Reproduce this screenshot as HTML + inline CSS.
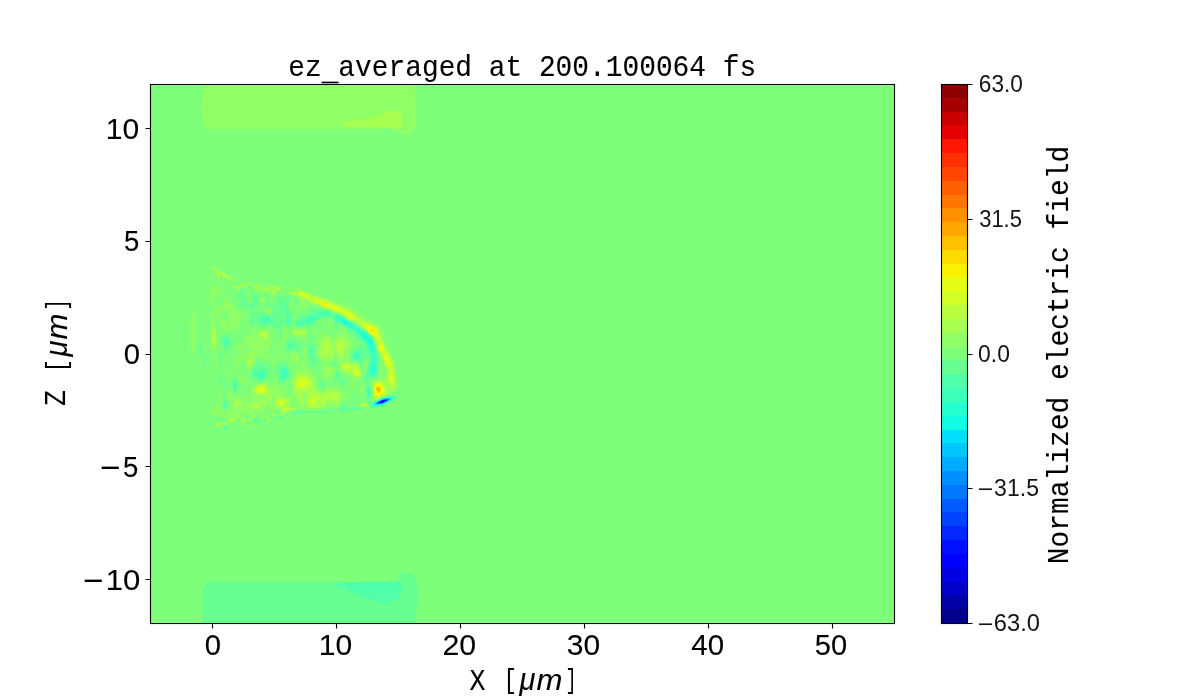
<!DOCTYPE html>
<html><head><meta charset="utf-8"><title>ez_averaged</title>
<style>html,body{margin:0;padding:0;background:#fff;width:1200px;height:700px;overflow:hidden}svg{display:block;will-change:transform}text{fill:#000}.s{stroke:#000;stroke-width:0.1px}.c{fill:#141414}</style>
</head><body>
<svg width="1200" height="700" viewBox="0 0 1200 700">
<rect width="1200" height="700" fill="#fff"/>
<rect x="150" y="84" width="744" height="539" fill="#7dff7a"/>
<g shape-rendering="crispEdges">
<path d="M205 84 415 84 415.5 100 416 106 416 125 413 130 409 133.5 404 135 399 134 396 131 396 128.5 213 128.5 208 129.5 206 127.5 203.8 124 202.2 119 201.2 108 202.2 101 204 90Z" fill="#90ff66"/>
<path d="M343 122.5 350 121 358 120 360 119 365 119.5 373 117.5 380 116 384 113 388 111 397 111 400 113 402 116 402 125 400.5 128 396 129 387 127.5 348 127 343 126Z" fill="#a7ff50"/>
<path d="M202.3 623 202.3 600 202.3 590 204.5 585.5 207 583 210 580.5 212 582 397 581.4 398.5 576 402 573 407 572 412 574 415 578 417 584 418.5 590 418 600 417 610 415.5 618 414.5 623Z" fill="#66ff90"/>
<path d="M331 584.5 340 583 350 582 360 581.5 397 581.5 399 580 401 585 402.5 590 401 595 397.5 599 392 601.5 380 602 370 599.5 358 595 345 589 335 586Z" fill="#50ffa7"/>
<path d="M395 584 397 583.5 397.5 586 395.5 587Z" fill="#3cffba"/>
<path fill-rule="evenodd" fill="#90ff66" d="M212.5 266l2 0 2.5 1.5 1 1 0 2 1.5 1 2-1 1 0 2 1.5 1 1.5 6 2.5 1.5 1.5 0 1-1 1-2.5 1-3-.5-2 2-1 0-.5-1.5 .5-.5 2-.5 0-1-1-.5-1.5 .5-.5 1-3-.5-2-1-2 .5-1-1 2-3-1.5-2 0-2-.5-.5-2 2.5-1.5-1 0-1 1-1 0-2zM234.5 278.5l1 .5 2 1.5-4 2-1-1 0-1zM238.5 281l1 0 2 2 2 .5 1.5 0-.5-1 1-.5 1 1.5 3-2.5 2 1.5 1 .5 1 1.5 1 .5 2-1.5 3 .5 2-.5 2.5 1 0 1 1.5 1.5 2-2.5 2 .5 2 1.5 1 0 2-1.5 1-.5 3 1.5 3-.5 1 0 1.5 1 0 1-.5 1-3 0-.5 2-1.5 1 .5 1-.5 1-2 0-1.5 1-1 4-.5 .5-2-2-2-5.5-2 1-2 .5-1-.5-2-2-1-2-1 .5-1 3-2 .5-1 0-2-2 .5-2-2.5-2.5-4-1-4 2.5-5 1-2 1.5-2-.5-3-2-1-1 0-1 1-1.5 2 2 2 .5 .5-1 0-1 1.5-1-.5-2zM270 290.5l.5 .5 1-.5-1-.5zM227.5 282l1.5 .5 .5 1-1 2-1-.5-.5-1.5 0-1zM210.5 285l1 .5 1 1.5 1 0 2-2 2 0 1 .5 1 2 3 3 0 2-1 1-2 0-.5 1-.5 3-.5 1-.5 0-1-1-1-2.5-1 1-2-1 0 .5-.5 2 0 2 .5 .5 2 .5 1 6 1 1.5 2-2 2 .5 1.5-1 1-2 0-4 .5-1 1-.5 3 1.5 2 3 3 3 1.5 3 2.5 .5 2 4 2-1.5 1 1 .5 1-1 4-1.5 9-1 3-1 0-2-3-2 4.5-1 0-3-.5-2-3.5-.5 1.5-1.5 1-1-.5-1-3.5-1 .5-2 2.5-1 0-1-4 0-6-2-1-1.5-4-.5-.5-1 .5 0 2 2 3-.5 5 1.5 7 1 13-.5 3-1.5 6-1 .5-3-2.5-1-2 0-3 0-14 1-7-.5-6 3-10 0-1-2.5-3-1-2-1-14zM230.5 308.5l-2 1.5-1 2-1 0-1-.5-1 .5-1 1-2-1-1 0-1 3.5 0 2 3 3 2-.5 1.5 .5 1 2 .5 4 .5 0 .5 0 1-3-1-6 2-3 1-5 0-1.5zM291.5 287l1.5 .5 0 1-1.5 1-1.5-1zM288.5 288l.5 .5-.5 .5-.5-.5zM297.5 288l1 0 8.5 3.5 9.5 3 32 11.5 7 4.5 8.5 7 10.5 4.5 5 3.5 2.5 4 2.5 10 2 5 7 13 2.5 8 3 17-.5 5-2 3-3 2.5-12 4.5-3 2-5 .5-1 0-1.5-18.5 .5-1 2 1 2-2 3-1 1.5-2 .5-3-1-6 1-3.5 2.5 5.5 .5 2-.5 2-1.5 3 .5 3 .5 .5 1 0 2-4.5 .5-2-.5-6-2.5-3-1.5-5.5-3.5-7.5-2.5-9-2-4-8-8.5-5-3.5-3-3-9-3.5-4-3.5-8-4-3 0-7-3.5-3 0-4-2-3-1-4-1-2 .5-3-4-1-.5-1 .5 0 3-.5 1-2.5 3.5-1-1-3.5-10.5-1.5-1-4-.5-4-3-2 .5-.5-1 0-1 1.5-.5 1 .5 5-.5 1-1 2 0zM245.5 289l1.5 .5-1.5 1.5-.5-1.5zM251.5 289.5l1-.5 1.5 .5-1.5 1zM284.5 290l1 .5-1 .5-.5-.5zM261.5 297l2-.5 1.5 2 0 3-.5 2-1 .5-2-1.5-1.5-2 0-2zM291.5 302l1 0 1 2 0 1.5-1 1.5-1-.5-1-2 0-1zM268.5 308l2 0 1 .5 .5 1-.5 3-1 1.5-3.5-2.5 0-2zM192.5 312l1 1.5 1 5 .5 14-.5 14-1 6-1 1.5-1-1.5-1-6-.5-14 .5-14 1-5zM330.5 320.5l1-.5 .5 1.5-.5 7-1 1-.5-2 .5-3zM245.5 323l.5 1.5 0 1-.5 1.5-1 0-.5-2.5 .5-1zM284.5 326.5l1 0 .5 1 0 4 1.5 1 1 0 .5 1-4 7-1.5 3-1 1 1-9 0-6zM318.5 326.5l0 2-.5-1zM253.5 328.5l2-.5 2 2 1 .5 2-2 5 .5 2 1.5 2 0 2 12-.5 3-2 3 0 3 2.5 5 2 .5 1 1.5 0 1-1 3 0 2.5-1 1.5-.5-1 0-4-.5-1.5-2-1-1-3-1-.5-1 1.5-3 1-5-3-1 0-1.5 2.5-2 7-2.5 2-3 4-2-1.5-1.5-5.5-1.5-3.5-1-1.5-1 0-2.5 4-.5 4 0 5-1 .5-1.5-4.5 1-4-3.5-3-1-2 0-1 1-.5 2 0 2.5-1.5 .5-5.5-2-.5-1-1 0-1 1-1.5 1 0 1 .5 3-4 2 0 1-1 1-3.5 3-4.5 2 2 1 .5 1-1.5 .5-5zM245 347.5l-2.5 3-.5 1 0 2 1.5 2 1-1.5 1-3.5 3 1.5 1-1.5 .5-2-.5-1.5-1-.5zM264 349.5l-.5 1 0 1 1 3 1 .5 .5-1.5-.5-3-1-1.5zM293.5 328l5 1 5-.5 3 2 0 1-1 4 0 4.5-1 0-1-2.5-1-1.5-1-.5-2 2.5-1 .5-1 0-2-2.5-2 0-1-1-1-2.5 .5-2zM342.5 328.5l1.5 1 2.5 3 2.5 6 2 2 .5 2 .5 3-.5 3-1 1-2 0-1 2 .5 2 1 3 1 4 2 2 2.5 .5 2-.5 1 .5 3.5 6.5 .5 5-.5 2-2.5 3.5-2 0-1.5 1.5-.5 3-.5 2-.5 4-.5-1-2-2-1-3 .5-2 2 1 1.5-2-1-3-.5-.5-2-1-2-3-1-.5-1 0-2 2-1.5-3-2.5-1-.5-1-1-5-.5-1-1 0 0-7-1-3-1-1.5-1-.5-1 6-2 2-1 .5-1-.5-1 3 1 2.5 2 1 3 1 .5 .5 0 2-1.5 4-1 2.5-1 .5-1-.5-2 1.5-3 1-1-.5-1-1.5-1.5-4 1-7 2-4 0-1-1.5-.5-2 0-.5-.5-3.5-6 1.5-7-.5-2-2-3 0-1 2-3 2-5 1-.5 .5 1.5 1.5 1.5 1-.5 1-2.5 1-.5 5 4.5 2 3 1.5-2.5 1.5-5 1 0 2 3 1 0 1-2 .5-4zM345.5 359.5l1 1 0-2zM313.5 330l1 2.5-1 2.5-1-.5-.5-2 .5-1.5zM222.5 331.5l1-.5 .5 1.5-.5 1.5-1 .5-.5-2zM277.5 339.5l.5 3-.5 2-1-3 0-1zM277.5 345l1 0 0 .5 .5 6 1.5 2.5 1 1 1-.5 1 2 0 3-1 1-2-1.5-2.5-.5-1-1-1-7zM304.5 348.5l1 .5 .5 3.5-.5 6-1 3 .5 4 1.5 1.5 2-.5 3 6.5 2 1.5 2 1 .5 2-.5 4 1.5 7 2.5 1.5 2 2 1-.5 4-3.5 2-.5 2-3 1 .5 1.5 3.5 1.5 1 1-1 1-4 1 .5 1 2.5 2.5 3 .5 3 3 .5 2-3.5 1.5 0 1 1 0 2-.5 1-4.5 6-.5 .5-2 0-2.5 3.5-1 3-1 1-1.5 0-2-1-3 1-1.5-1-.5-1.5-1 0-2 2.5-2 1-3-.5-3 .5-5 0-6 .5-1-.5-1-1.5-3-.5-1 .5-3-4-2 0-1-1-1-2.5-.5-6 0-4-2-9 1-3 2-2 1-4 1.5-2 .5-2-1-5-1.5-2.5-1 0-1.5 1.5-.5 3.5-.5-.5 0-4-.5-8 1-2 1 0 6 4 0 10.5 .5 2.5 1.5 2 1-1-.5-5 1.5-4zM214.5 357.5l.5 4 1.5 1 1 2 0 2-1 .5-2-.5-.5-1 .5-3-1-3zM365.5 362l1-.5 .5 1 0 1-.5 1.5-2 3-.5-2.5 .5-2.5zM228.5 370l.5 3.5-.5 1.5-1-1-.5-1.5 .5-1.5zM240.5 374.5l2 3.5 2 .5 2 2 1.5 3-.5 3-1.5-2-3.5-2.5-1-.5-1 .5-1-3.5-.5-3 .5-1zM275.5 380.5l1-1 4 11 1-.5 1-1.5 1 0 1 0 1.5 2 .5 4 1 1.5 1 0 1.5-2.5 1 0 0 1-.5 9 0 2 1 1.5 3 0 1-1.5 1 .5 1.5 2.5 0 1-.5 1-1 .5-2-1-1 1.5-1 0-1-.5-3 2-4 0-.5 .5-.5 2-1 .5-2-.5-3 .5-2-1.5-3 2.5-1.5-1.5 .5-3 .5-1 1.5-.5 2 3 3 0 1 0 .5-.5 0-2-.5-.5-2-.5-1-1.5-4 .5-3 2-1-.5-.5-.5 1-2-.5-2-1-.5-2 1-1 1.5-.5 1 1 2-2.5 3 3 1 1-3.5 1 0 .5 .5 0 2 1 2 0 2 2 1 .5 1-1 1-3-1-2-2.5-2 0-1 1-.5-.5-1.5-3 1-1-2-2.5-2 1-2-2-1 0-2 1.5 .5 1 1.5 .5 2-1 .5 1.5 0 1-2.5 2-1 .5-2-.5-3-2.5-3-.5-1-1.5-3 .5-1-2.5-1-.5-1.5 2 1 2 0 1 1 0 .5-1 2 .5 .5 .5-.5 2 3 .5 1 .5 .5 1-2.5 2.5-3 1-1 0 0-3-1-1-4 .5-2.5 3 .5 1 2 1-3 1-2-1 .5-1-.5-1-3-2 0-3 1-2-1-3-1.5 4-1.5 1.5-1-1-2.5-.5-2.5-2.5-2 1-2-2-1 2-1 .5-1-1-.5-3 .5-3 1-1 1.5-1 1.5-3.5 3-1 1-1.5 0-2-1-5 1-2.5 1 0 .5 1.5 .5 7-2 7 0 2 1 1.5 2 0 2 1.5 3 .5 .5-1.5 2.5-3.5 1-.5 1-2-.5-2-.5-.5-1 .5-1-1-1-5-1-1-1 0 0-1 0-1 3-3 1-.5 1 .5 2 9 1-.5 2-3.5 1-.5 5 3.5 2 7 .5-7 .5-3 1-2.5 2 2.5 1 .5 .5-.5 1-7 .5-2 1-1 3-.5 2-1.5 2 0 7-2 1 1 1.5 3 1.5 1 1-.5 2.5-2.5zM250 396.5l.5 3 1 1 1-2-1-2-1-.5zM261 408.5l-.5 1 1.5 0-.5-1.5zM241.5 416.5l-.5 1 .5 .5 1-.5-1-1.5zM285.5 384.5l1 2 0 2.5-1.5-2.5zM360.5 384.5l2 2.5 1 2.5 .5 2-.5 1.5-2 0-2-2.5 0-4zM344.5 387.5l1-.5 .5 1.5-.5 .5-1.5 .5-1.5 2 0-2zM355.5 396.5l1 0 1 2 0 1.5-1-.5zM362.5 402.5l3-.5 1 0 1.5 2.5-.5 2-1 1-3 .5-2.5-1.5-1-1 0-1 .5-1zM298.5 415l.5 .5-1 0zM286.5 416.5l1.5 0 .5 1-1 1-2 0-1-1zM249.5 418l1 0 1 1.5-1 1-1 .5-1.5-.5-.5-1zM223.5 419l1-.5 1 2 0 2 2 .5 0 1-1 0-3 1.5-1 1.5-2 0-3 1.5-3-.5-.5-1.5 1.5-2 1-2 1-.5 4 .5 1-.5zM275.5 419.5l1-1 .5 1-.5 1-1-.5zM236.5 422l1 0 .5 .5-1.5 1.5-1 .5 0-1zM251.5 423l1.5 1.5-1.5 .5-1.5-.5zM246.5 424l1 .5 .5 1-1.5 1-1-1 0-1zM240.5 425l2 .5 1 1-1 1-3 1-1.5-1zM231.5 428l1 .5 2-.5 1.5 .5-2.5 1.5-3-.5 0-1zM219.5 431l1 0 0 .5-1 .5-.5-.5z"/>
<path fill-rule="evenodd" fill="#a7ff50" d="M213.5 268l1 0 1.5 .5 1 2 2.5 1.5 2 0 2 .5 1 1 0 1 7 3 0 1-2 1.5-1 0-1-.5-1-1.5-2-1-2 1-1-1.5 1-1 0-1-1-1.5-1 0-1 1.5 1 2-1 1-3-1 0-1 .5-1-1-2 .5-2-.5-1-2.5-1zM234.5 280l1 .5-1 1-1-1zM249.5 282l2.5 2.5-1.5 1-2-1-.5-1zM228.5 283.5l0 .5-.5-.5zM256.5 284.5l1 0 1 1-1 2-1 0-1.5-1 0-1zM238.5 285.5l1 0 2 0 .5 1-.5 .5-2 .5-2 1.5-1 0-2-1.5 3-1zM243.5 285.5l1.5 0-.5 1-1-.5-.5-.5zM267.5 286l1 0 .5 .5 .5 3-2 2-2 .5-2.5-2.5 0-2 1.5 0 1 1 1 .5zM275.5 286l4 1.5 0 2-2.5 2-1.5 0-1 2-2 1-1-.5-.5-1.5 .5-1 3-1.5zM258.5 287.5l1 0 .5 1-.5 1-1 0-.5-1zM271.5 288.5l.5 0-.5 0zM298.5 289.5l4 2 2 0 2 1.5 18 6 24 10 5 3 8 7 12 5 4 3 2.5 3.5 1.5 6 4 10 5 9 2 5 1.5 5 2.5 16-1.5 6-1.5 3-1 .5-1 0-2-3-1 1.5-.5 4-2 2-8.5 3.5-3-.5-1-1-1-3 0-7 .5-3 .5-1 3-3 3-1 1 .5 2 2 1 0 3.5-5.5 .5-3-1-6-3-5-1.5-6-3.5-5.5-3.5-11.5-2-3-7.5-7-9-7.5-8-2.5-4-3.5-7-3.5-4-1-7-3.5-2 .5-2-.5-3-3-8-1.5-1-.5-3-3-2-1-4-.5-4-3.5-3 0-2-.5-1-1-2-1 1-.5 2 0 2-1 1-.5 1 1 0 1.5 1 0 0-2.5zM256.5 290l0 .5-.5 0zM262.5 298l1 .5 .5 1 0 1-.5 1-1 0-1-1 0-1.5zM228.5 305l1 0 .5 .5 0 1-1.5 1-1-1zM269.5 309.5l1 1-1 .5-.5-.5zM213.5 327l1 0 1 2.5 .5 11-.5 4-1 2.5-1 1-1-.5 0-1-.5-6 0-8zM302.5 329.5l2 .5 .5 1.5 0 2-.5 1-4 0-2 1.5-2.5-1.5-2.5-.5-1-1.5 0-1 1-1.5 2-.5 3 1.5zM262.5 330.5l3 .5 1.5 1.5 1.5 7-1-.5-2 1.5-5-4-.5-2 0-2 .5-1zM342.5 336l1 .5 2 6 1-2 1 0 0 2-1.5 5-2 3 .5 4-.5 2-.5 .5-2-.5-2 1-4-8-.5-3 1-6 1.5-3 2 2.5zM327.5 337l2 2.5 1.5 4 .5 .5 1.5 2.5 0 2-.5 3 0 4.5-1 1.5-1-.5-1-1-1 0-2 .5-1 1-3 .5-3-4.5 0-2 2-7 .5-4 .5-1 3-.5zM255.5 342.5l1 .5 .5 .5-.5 2-1 0-.5-1 0-1zM259.5 343l1 0 1 2.5-.5 1-1.5 1-.5-2zM252.5 351l1 1 .5 1.5-.5 1.5-1 .5-1-3zM292.5 354l1.5 1.5 0 1-.5 1-1 .5-.5-2.5zM296.5 356.5l1 0 0 1 0 4-1 0-.5-2-.5-2zM247.5 358.5l3 .5 2-.5 1 2-1 3-3 3-1 .5-1-1.5-1-3 0-3zM343.5 362l3 .5 2 0 3 2 5-.5 1 1 2.5 4.5 .5 2 0 3-1 2-2 1.5-2 0-1-.5-2-3.5-1 0-2-2-2-.5-3 .5-1-1-2-2.5-.5-2 .5-2zM326.5 368.5l1-1 1 0 1.5 2 0 3-1.5 2-1.5-1-2-4zM308.5 370.5l.5 2-.5 1.5-.5-2.5zM298.5 372l1 .5 2 1.5 1 0 1-1 1 0 2 2.5 1.5 0 .5-1 2 3.5 2-1 1 6.5 0 4 1 2 2 2 2 0 1 .5 2 2 1 .5 4-4.5 1-.5 2 2 1-1 5 1 3-1 1 1.5 .5 2.5-.5 4-.5 2-2.5 3-1-.5-1-1-2 0-3-1.5-4 3.5-2 3.5-2-1-2 0-2 1.5-7 0-1.5-.5-2.5-4 1-8-.5-2-.5-.5-3 0-1 .5-.5 2 2 5 .5 3-1 1.5-1-.5-1-2.5-4-5.5-.5-3-3-5-.5-4 0-3 2-4 1-3.5zM258.5 384.5l6-.5 2 1 3 5 2.5 6.5 0 2-1.5 2.5-2-1.5-.5-4-.5-1.5-1-.5-2 2.5-1 .5-2-.5-3 .5-2-2-3-2-.5-2 .5-2 3-3zM277.5 394.5l2 2.5 2-.5 3 .5 4 2.5 .5 2 0 3 1 2-.5 2 .5 1 0 1-.5 .5-1 1-2-.5-4 1-1-1 .5-3-2.5-.5-5-2.5 0-3 2-3 0-4.5zM237.5 399l1 0 3 3 0 2.5-1 .5-2 0-1 .5-2 3.5-1-1.5 0-1 1.5-5zM246.5 400l1 1 .5 1.5-.5 3.5-1-2zM264.5 399.5l1 .5 .5 1.5-1 3-1.5 1-.5-2 0-1zM254.5 401.5l3 .5 2-.5 1 1-1 3-1 2-1 1-5 0-1.5-2 0-2 1.5-2 1-1zM362.5 403.5l3-.5 1 .5 .5 1 0 1-1.5 1-2 .5-1-.5-1.5-1 0-1zM296.5 407l.5 1.5-.5 1-1.5-1 1-1zM292.5 408l1 0 .5 .5-.5 1.5-1 .5-.5-1zM261.5 411.5l.5 1-.5 .5-.5-.5 0-1zM249.5 414.5l2 0 0 .5-1 .5zM272.5 413.5l1.5 1-.5 1-1 .5-.5-1.5zM277.5 414.5l.5 0-.5 1zM253.5 415l1 .5 0 1-1 .5-1.5-.5 .5-1zM229.5 416.5l1-.5 3.5 3.5 0 1-1.5 1.5-1 .5-3-2 1-2-.5-1zM234.5 416.5l1-.5 1.5 1.5-.5 .5-1 .5zM267.5 416l.5 1.5-.5 1-1.5-1zM243.5 418.5l1 0 1 1-1.5 2-1.5 1-1-1 0-2 1-1zM217.5 422.5l1 0 1 1-2 2-1-1 0-1zM224.5 423l1 .5-1 1-.5 0 0-1zM220.5 424l1.5 .5 0 1-.5 1-1.5-1zM215.5 426.5l1-1 1 0 1 1 0 1-1 0z"/>
<path fill-rule="evenodd" fill="#baff3c" d="M217.5 271.5l1.5 1-.5 1-1 0-1-1 .5-1zM217.5 275l1 0 1 .5-.5 1-1.5 0-.5-1zM223.5 276.5l2-.5 1.5 .5-.5 .5zM228.5 278l1 .5-1 .5-.5-.5zM256.5 285l1 .5-1 1-.5-1zM237.5 287.5l.5 0-.5 .5-1-.5zM276.5 287l2 .5 .5 1-.5 1.5-1 0-1-.5-.5-1 0-1zM264.5 289.5l1 0 1.5 1-1.5 .5-.5-.5zM294.5 291.5l1 0 0 2.5-1 .5-1-1zM299.5 291l3 1.5 2-.5 2 2 5 2 10 3.5 4 1 4 2 5 1.5 13 6 5.5 3.5 7.5 7 10 3.5 4 2 2 1.5 2 3 1.5 7 3 5 1.5 5 4.5 8 3 7 2.5 12 .5 5-1.5 7-1 2-1-.5-1-2.5-2.5-3 0-3 .5-6-1.5-7-3-5-1.5-6-3.5-5-2-8-2.5-5-6-5.5-3-3.5-3-2-5-5.5-8-1.5-1.5-1-2.5-3-3-1.5-5-2-5-1.5-6-3-3 0-1.5-1-2.5-3-5 0-3-1.5-4-3-6-2-3-2.5-.5-1 .5-2zM272.5 292l1 .5-1 .5-1-.5zM263.5 331.5l2 .5 .5 1.5 0 2-1.5 1.5-2-1-1-1.5 0-2zM294.5 331l1.5 .5 0 1-1.5 .5-.5-.5 0-1zM301.5 331l1-.5 1 0 .5 1 .5 1-1 1-3-1 .5-1zM213.5 331.5l1 1 0 2 0 5.5-1 1-.5-6.5zM342.5 339.5l1 2 0 4-2 4-1 3.5-1 .5-2-5-.5-2zM324.5 342l2 0 1 1 1 7.5 0 1-1 1-2-2.5-1.5-3.5-.5-3zM248.5 362l.5 .5-.5 1zM343.5 364l2-.5 4 1 1.5 3-.5 2-1 .5-4 .5-1 0-1-1-1-2 0-2zM353.5 366l1-.5 2 .5 3 4.5 .5 3-.5 1.5-1 1-2 .5-2-1-2-7zM298.5 374.5l1 0 2 2.5 3-1 3.5 2.5 1.5 2 2 2 .5 2-.5 3-2-.5-2 2.5-3 0-3 1-5-1-1.5-2 0-4 .5-3zM377.5 381.5l3 0 3.5 3 1 2 1.5 5-.5 2-1.5 2-3 1-3 2-1 0-3-1.5-1-3.5 0-5 0-3 2-3zM258.5 385.5l3-.5 3 .5 1.5 1 1 2 0 2-2.5 3-1 1-5-.5-3-2.5-.5-1 .5-2 1.5-2zM309.5 392l1 .5 1 3 1 .5 1-.5 1-1.5 2 .5 2-1.5 1 1 1 1.5 0 2-.5 1-3.5 3 0 2-1.5 2-1.5 1-3 0-1-2-1-7 .5-4zM326.5 392.5l1 0 .5 2-1 4-3.5 4.5-1-.5-1-2 .5-3 3-2zM331.5 393l3 .5 1.5 1 0 1-1.5 2-2 1.5-1-.5-1.5-2 0-2 .5-1zM337.5 393.5l1 1 0 1-1 .5-.5-1.5zM279.5 399l2-.5 3 1 2 1 0 1-1 2-4 3.5-1 0-1 0-2-2.5-.5-2 1-2zM254.5 403.5l1.5 0 1 1 .5 1-1 1-1.5 0-1.5-1 0-1.5zM362.5 404.5l3-.5 .5 .5 0 1-2.5 .5-1-.5zM285.5 407.5l1 0 2-.5 1 2.5-.5 1-.5 .5-2-1-3 1.5-1-1 1-2 1-1zM230.5 419.5l1-1 1 1 .5 1-.5 1-1 0-1-1zM242.5 420.5l1 0-1 .5zM217.5 423.5l.5 0-.5 .5z"/>
<path fill-rule="evenodd" fill="#d1ff26" d="M277.5 288l.5 .5-.5 .5-.5-.5zM300.5 293l2 0 2 0 2 2 2 1.5-1 1-6-1.5-1.5-1.5-.5-1zM313.5 298.5l3 0 3 2 0 .5 4-.5 2 .5 4 3 5 1 7 4 6.5 2.5 5.5 4 2 3-3 1-3-.5-1-.5-3-4-3-1.5-5-2-5-1.5-5-2.5-4 0-2-1.5-2-4-3 1-2 0-2-3 0-1zM362.5 323l1 0 5 1.5 5 2 2 1.5 1.5 2.5 1 2 0 4-.5 2-1 0-1.5-2-6.5-5-2-3-3.5-3-.5-1zM263.5 332.5l1 0 .5 1 0 1-.5 .5-1 .5-1-1 0-1zM380.5 341.5l1 .5 1 1.5 2 8.5 3 3 2 3.5 1.5 5-.5 7-1-1-1-1-3.5-7-1.5-8-3-1.5-1-1.5-.5-4 1-4zM344.5 365l1 0 3 1.5 .5 1-2.5 1.5-2 0-1-1.5 0-1zM355.5 368.5l1 0 1 1 2 3-.5 2-1.5 1-2-.5-1-1.5 0-3zM391.5 372l2 3.5 0 2 0 3-1 4.5-1 0-1.5-2.5-.5-3 0-3zM299.5 377l2 2 4 0 2 1.5 .5 3-1.5 2.5-2 0-3 2-4-.5-1-.5 0-5zM378.5 382.5l2 .5 2.5 2.5 1 2 1 5-.5 1.5-3 1-2 2-1 .5-3-2-1-1-.5-6 .5-3 1-1.5 1-1zM258.5 386.5l3-.5 3 1.5 1 2-1 2.5-2 1-4-.5-1-1-1-2 1-2zM311.5 399l2 1 0 1.5 0 2-2 1-1-1 0-2 0-2zM280.5 400l1.5 .5 2 2-1.5 2-1 1-1 .5-1.5-1.5-.5-1 .5-2zM284.5 408.5l1.5 0 0 1-1.5 .5-.5-.5z"/>
<path fill-rule="evenodd" fill="#e4ff13" d="M301.5 294l3 0 .5 1.5-2.5 .5-1.5-1.5zM314.5 300l1 0 1 .5-1 1-1-1zM323.5 301.5l1 0 2 1 1 2-.5 1-2.5 1-2.5-1-.5-2 0-1zM330.5 306l2-.5 2.5 1 2.5 2 0 1-3 0-2-1-1.5-1zM346.5 313l2.5 .5 3 3 .5 1-1 .5-1 0-2-1-2.5-3.5zM366.5 325.5l3 .5 5 2.5 2 3 .5 2-.5 2-1 0-2-1-4-3-3.5-5 0-1zM381.5 344l1 2 .5 3.5-.5 1.5-1 .5-1.5-1-.5-2 1-3.5zM385.5 355.5l2 1.5 2 4.5 0 3-1 1-2-2-1-3-1-3zM356.5 371l1 0 1 1.5 0 1.5-1 .5-1 0-.5-1-.5-1zM391.5 377l.5 1.5-.5 2-.5-2zM300.5 381.5l1.5 1 0 1-.5 1-1 .5-.5-1.5zM304.5 382l1 .5-1 0-.5 0zM376.5 384l2-.5 2 1 2 2 .5 3 0 2-.5 1-3 3.5-1 .5-3-3-.5-2-.5-4 1-2zM259.5 387.5l2 0 1.5 1 .5 2-1 1-2 0-2-.5-.5-1.5 0-1zM280.5 402l1 .5-.5 1-.5 .5-.5-.5z"/>
<path fill-rule="evenodd" fill="#fbf100" d="M323.5 302l2 .5 .5 1 .5 1-1 1-2 .5-1.5-1.5 0-1 .5-1zM368.5 327l4 1 2 1.5 1 2 0 1-1 1-2-.5-3-2.5-1-2zM381.5 347l.5 1.5-.5 1.5-1-.5 0-1zM387.5 360l1 1.5 0 2.5-1-.5-.5-1 0-2zM376.5 385.5l1-.5 2 0 1.5 1.5 1 2-.5 3-2 3.5-1 0-1-.5-2-3 0-4z"/>
<path fill-rule="evenodd" fill="#ffdb00" d="M323.5 303l1 0 1 .5 0 1-1 1-1.5-1 0-1zM370.5 329.5l1-.5 1.5 .5 1 1 0 1-.5 .5-1 0-1.5-1.5zM377.5 386l1 0 1 .5 1 1 .5 2-1 3-.5 1-1 .5-1.5-1.5-1-3 .5-2z"/>
<path fill-rule="evenodd" fill="#ffc100" d="M377.5 387.5l1-.5 .5 .5 1 2-.5 2.5-1 .5-1.5-2 0-2z"/>
<path fill-rule="evenodd" fill="#ffa700" d="M378.5 388.5l.5 1-.5 1.5-.5-1.5z"/>
<path fill-rule="evenodd" fill="#66ff90" d="M219.5 270l.5 .5-.5 0-.5 0zM229.5 281.5l2-.5 0 .5 0 .5-1 0zM234.5 283l1 .5 1 2-1 .5-1-1-.5-1.5zM254.5 283.5l.5 0-.5 0zM248.5 286l4 1.5-2 1.5-1 0-2-1.5 .5-1zM295.5 288.5l0 1-.5 0 0-1zM241.5 289l1-.5 1.5 1 .5 5.5 1.5 2.5 1.5 4 1 2 1 .5 2-1 1-1.5-2.5-10 .5-1.5 1 1 2 .5 1 1 1 3.5 1-.5 1-1.5 1.5 .5 .5 2-1 3 .5 4-1.5 5-3-1-1 1-.5 2 .5 2 1 .5 2 0 1 0 1-1.5 .5 0 4.5 .5 2 2.5 2-.5 1 .5 2 2.5 1-1 .5-1.5 1.5-9 2.5-4 1-6 1.5-.5 2 0 1 1 2 3.5 1-1 1-1.5 2-1 .5-1.5 1.5 0 1 2-2.5 9 .5 1.5 2 1 1 2.5 0 6 1 3 .5 3-1.5 6.5-1 .5-5-5.5-1 0-.5 .5-3 5-.5 2 .5 5-.5 2.5-1-1.5-.5-6-.5-2-1-.5-1 .5-2-2-2 1.5-2-3.5-1-.5-3 2-4-.5-2-1-2 .5-1 0-2-1.5-2-1-3 2-1-1 0-5 1.5-8-.5-2-1-1.5-1 0-1 3.5-1-.5-1.5-1.5-1.5-3.5-1 0-1 1.5-1 .5-1 0-1-1.5 2.5-10 0-1-.5-.5-1.5 2.5-1.5 0-1-1-.5-2 1.5-2 2-.5zM277 308.5l0 2 .5 3 1-3-.5-2-.5-.5zM281.5 311.5l0 2.5 2 3 1-.5 0-1zM278 316.5l0 4 .5 1.5 1-4-1-2.5zM281.5 289.5l1 0 0 1.5-1-.5zM226.5 291.5l.5 1-.5 1-.5-1zM283.5 292l1.5 .5-.5 1-1.5-1zM266.5 294.5l1.5 1 .5 5 2 3 .5 1-.5 1.5-4 1.5-1-1 1-5-1-5zM295.5 298.5l1 1 .5 3-.5 2-1 0-1-5zM308.5 307.5l2 2 2-2 2 .5 2-.5 2 1.5 2 0 3 1 3 0 7 3.5 3 0 7 3 5 4 8 3.5 4 3.5 5 3.5 6 5.5 1.5 2 2.5 5.5 3.5 12.5-.5 11 1 6-1 3-3 1-2 1.5-2-.5-1 .5-1 .5-1 2-.5 1 2 3 1 3 0 13 .5 .5 1 0 9-4 10-3 4-.5 2 1 .5 1-1 2-3.5 2.5-6 2.5-4 2.5-10 2.5-4-.5-.5-.5 0-4-3-6-.5-9 .5-5-1.5-3-.5-2 0-2 2-4 1-4 2-7 .5-3-1-1.5-4 3-1 1-1 3.5-1 1.5-1-.5-2-3-1-1-3 .5-1.5-.5-1.5-2-1-2.5 0-3.5 2-2 2-3.5 2-.5 2-2 1 1 1-3-.5-1-4.5-3-.5-1-.5-3-2-2.5-1 0-1 1.5-1 .5-1.5-3.5-1.5-3-4-3-3-.5-1 .5-1 2-1 1-1 0-1.5-2-1-7-.5-2-1 0-3 2-1 0-2-1-2 2-2-2.5-1 0-2 3.5-2 0-1 1-1 3-5 1-2 1.5-2-.5-2-1-2 1-3 0-3-1-.5-1 0-2 1-4 3-2 1.5-4 1 .5 2 .5 2 2 1-.5 1-2.5 0-5zM178.5 323.5l1 0 1 2-.5 2-.5 1-1 0-1-2 .5-2zM333.5 330.5l.5 2-.5 2-1-1 0-1zM225.5 334.5l2-.5 1 0 3 5.5 .5 2-.5 4-1 2-1 .5-1 3.5-1 1.5-1.5-.5-1.5-2-1-3-2-2-1-4-1.5-3 .5-1.5 3 .5 1-.5zM308.5 334l1.5 2.5 2.5 2.5 1 6 1 1.5 1 1 1 0 .5 1-.5 2.5-2-1.5-1 2 .5 2 .5 3 2 .5 .5 .5 1.5 3-.5 3-1.5 1.5-2 .5-1 .5-1 2.5-1 0-1-3-1-10-1 1.5-1 0-.5-11.5 .5-1 1 0 .5-1 .5-2 0-2-.5-1-1.5-.5-.5-1.5 .5-2zM288.5 337.5l3 .5 2 1 2 0 1.5 2.5 .5 3 0-2 1-1 1-1 1.5 0 0 3 1 3-1 3-1.5 2-2 1-2-2-3-1-2 .5-2 1.5-2-2-1 0-.5-3 1.5-6 1-2zM200.5 340.5l1.5 3 0 5-.5 5-1 2-1-2-.5-5 0-5zM221.5 351l1 2.5 0 3.5-1 5-1 2.5-1 0-.5-3 .5-1 1 .5 .5-1.5-.5-1.5-2-1 0-1.5 .5-2 1.5-2zM203.5 355.5l1 .5 .5 .5 1 3-.5 3-1 2-1 0-.5-1-.5-3 0-3zM300.5 356l.5 1.5-.5 2.5-.5-1.5zM258.5 359l2 3.5 2-.5 2 1.5 2 0 1 2 0 4 1 1 1-1 1 1 .5 2-.5 1.5-1 1.5-1-1-1 .5-1.5 3.5-1.5 1.5-5 2-3-1-1 .5-1-.5-3.5-5.5 0-1 .5-5 4-4zM333.5 361l1-.5 .5 2-.5 2-1 .5-1-1.5zM278.5 362.5l1 0 2 1 1 0 3-1.5 1 0 1 2 2 8 2-.5 1 2-.5 2-1.5 2.5-1 1-1 0-3 2-2 2.5-1 .5-3-1.5-3.5-10-2-2 .5-2 3-5.5zM337.5 370.5l2 2.5 2 2 1 3.5 3 3-.5 2-3.5 3-1-.5-1-3.5-2-2.5-1 0-2 3-1-1 0-3 1.5-5.5 1.5-2.5zM218.5 375.5l1 .5 1 5.5 0 2-1 1.5-1-.5-.5-2zM235.5 376.5l1 1.5 1 3.5 .5 5-.5 3-3 5-1-1.5-1.5-7.5 1-6 1.5-2.5zM250.5 376.5l0 3.5-1-2.5zM321.5 379.5l1 0 2 4 1 1 0 1.5-1 1-3 .5-2-1-.5-1-.5-3 .5-1 1.5-.5zM224.5 381l1 2 0 2.5 0 1-1 1-.5-5zM212.5 383.5l1 1.5-1 0zM215.5 387.5l.5 2-.5 .5-.5-1.5zM241.5 389.5l.5 1-.5 1zM223.5 391l0 3.5-1-1 0-1zM351.5 397l1-.5 1 2 1.5 4-.5 .5-1-1.5-2-1-.5-1zM225.5 400l1-.5 1 1 1 5-1 3-2 1-1-.5-1.5-1.5-1-2 .5-2zM344.5 403l1-.5 1 1-.5 3 .5 1 3 0 2-1 2 .5 2 .5 3-1 2 .5 1.5 1.5 0 1-1.5 1-5-.5-4 1.5-5-.5-3 1-7-1-3 1-6 .5-4 0-2 .5-3-.5-7 1-5-1-5 2-3-1-2 1.5-4 .5-1 0-1-1 1-2 2 0 1-1 1 0 3 .5 1-1 2-1 5 2.5 1-1 4-1 6 .5 3-1 3 .5 4-1.5 3 .5 4 0 2 .5 4-2.5 1.5-3zM278.5 411.5l1.5 1-1 1-1 0-1.5-1 1-1zM258.5 413.5l1-.5 1 1.5-1 1-1-1zM269.5 412.5l1 .5 0 .5-1 2.5-.5-2.5zM285.5 414.5l1 1-1 .5-.5-.5zM246.5 416l1-.5 1 .5 .5 .5 0 1-1.5 .5-1.5-1.5zM258.5 416l1 0 .5 .5 0 1-.5 .5-1.5-.5zM270.5 416.5l2 1.5 3-2 2 1 3-1 1.5 .5 1 1-.5 1-3 .5-3-1.5-1.5 1-1.5 1.5-3-1.5-.5-1zM218.5 417.5l1.5 1 .5 2-2 1-1.5-1 .5-1-1-1 1-1zM252.5 418.5l1 0 2-.5 1 0 2.5 2.5-1.5 1.5-2 .5-1 .5-1 0-.5-.5 .5-2-1-1zM215.5 419.5l.5 0-.5 1zM221.5 419l1 .5-1 .5-.5-.5zM264.5 419l1 0 0 .5-.5 2-1.5 1-1 0-.5-1zM236.5 420l1.5 .5-1.5 .5-.5-.5zM226.5 420.5l.5 1-.5 .5-.5-.5zM250.5 421.5l.5 0 0 1-1.5 1-1 0-1.5-1 .5-1 2 .5zM214.5 421.5l1 1 0 1-1 .5-1-1.5zM229.5 422.5l0 1-1-1zM234.5 422l.5 .5-.5 .5zM242.5 423.5l1.5 0 0 1-.5 .5-1.5-.5zM237.5 424.5l1-1 .5 1-2.5 2.5-3 .5-1.5-1zM226.5 425l1.5 1.5 1.5 .5 .5 .5-.5 1.5-1 1-1-1.5-1 0-1 1.5-1 .5-2-2-3 1-3 2.5-1 0-1-.5 0-1 1-1.5 3 0 2-1.5 2 1 1-.5 .5-1.5z"/>
<path fill-rule="evenodd" fill="#50ffa7" d="M242.5 289.5l.5 1-.5 .5-.5-.5zM286.5 300.5l.5 0-.5 1.5-.5-.5zM285.5 302.5l.5 0 0 3 1.5 5 0 1-1 1-2-1-.5-1 .5-6zM318.5 311l2-.5 3 1 2-1 1 0 4 2 1.5 2-.5 1-1 1-1 0-2-.5-3 .5-1 .5-3-.5-2 1.5-2 1-3 4-3 1-4 1-2-2-1 .5-2 2-4 .5-1-1-.5-1.5 .5-2 1-1 2-.5 3-3.5 1 .5 2 1.5 1-1 2-3 3 .5 1 0 4-2zM289.5 313l0 1-.5-.5zM288.5 314l3 8.5-1 1.5-1-1-3-.5-1-1 0-1 1-3.5zM334.5 314.5l2-.5 3 2 3 1 5 3.5 9 4.5 6 5 3 1.5 7 7 3 7.5 1.5 7.5 .5 4 0 12 .5 4-.5 1.5-4 2.5-5-.5-2 3-.5-.5-.5-2 2.5-4 .5-7 2-6-.5-6-3-4 0-4-.5-2.5-1-1.5-3-2-3-3-3-1-1.5-4-1.5-1.5-3 0-1-.5-4-4.5-6-3.5-1 0-2 1.5-1-1-1.5-4.5-.5-3zM262.5 315.5l2 1 1 0 2-.5 1 .5 2 4-1 .5-2 2.5-1 .5-4-1-3-2.5-.5-1 .5-1 2-2.5zM271.5 319.5l1-1 .5 1 0 1-.5 1.5-1 0-1-1.5zM281.5 320l1 0 0 1.5-1 1.5-.5-1.5zM225.5 337l1 0 1.5 1.5 1.5 3-1 3-1 1.5-1 .5-1-.5-1-.5-2-4 .5-2zM288.5 342.5l1 1 1 0 1-1 1 0 1 1 0 2-1.5 2-2.5 1-1 0-.5-1-.5-3zM309.5 348.5l2 1 .5 1 1.5 7-.5 2-.5 1-1-1.5-.5-5.5-2-3zM355.5 350l2 0 2 1 2 0 1 1.5 0 1-2 2-1 5-2-.5-3 .5-1.5-2-.5-3zM316.5 359.5l.5 1-.5 1.5-1 0 0-1.5zM285.5 366l1 .5 1 2 .5 5-2.5 5-2 2.5-1 .5-2-1-1-1.5 0-3.5 .5-4 1.5-3.5zM262.5 366.5l1 1.5 2 5.5 0 2-.5 2-1.5 1.5-4 1-3-3.5-2 0-1-2 0-3 1-1.5 1-.5 1 0 1 2 4-3zM337.5 374l1.5 2.5 0 1-.5 0-2-1.5 0-1.5zM234.5 380l1-.5 .5 1 1 4-.5 3-1 2-1 1-1-1.5-.5-3.5 .5-3zM367.5 386l1 0 1 1 1 3.5-.5 6-1.5 2.5-1.5-2.5-.5-5 0-3zM389.5 396.5l2-.5 2 0 1 .5 .5 1-1.5 2-4 2.5-6 3-4 1-6 1-2 0-1-1-.5-.5 .5-1 4-3 8-3.5zM225.5 402.5l1-.5 1 2.5-.5 2-1.5 1-1-.5-.5-1.5 0-1zM343.5 408.5l2 1-2 1-1 0-2-1zM350.5 408.5l1-.5 2 .5 0 1-3 .5-1-.5zM358.5 408l1 0 1 .5-1 1-1.5-1zM278.5 412l.5 .5-.5 .5-.5-.5zM294.5 412.5l1-.5 1.5 1.5-1.5 .5-1 0-.5-.5zM300.5 412l1.5 .5-1.5 .5-.5-.5zM279.5 417.5l.5 0-1 0zM255.5 419l2 1 .5 .5-.5 .5-1 .5-1-.5-.5-1.5zM225.5 427l.5 .5-.5 .5-.5-.5zM216.5 429.5l1 0-1 1z"/>
<path fill-rule="evenodd" fill="#3cffba" d="M325.5 312l1.5 .5 0 1-.5 1-1 0-1-1zM319.5 313l2 .5-2 1.5-1 0 0-1zM335.5 315l1 0 3 2 2 .5 3 1.5 3 2 10 6 5 4 3 1.5 6 6 3 7 2 8-.5 8 0 11 0 1-2 2-.5 .5-3-.5-1-2 0-6 2-6 0-7-5-12.5-9-8.5-3-4.5-4-.5-9-6-2-2-2 .5-1 0-1-1.5-.5-2 0-2zM313.5 316.5l1.5 0 .5 1-1 2-1 1-2 .5-2 1-2 0-1-.5 .5-2 1.5-2.5 3 .5zM267.5 317.5l1 2-1 2.5-1 .5-1-.5-2-1.5-.5-1 .5-.5zM225.5 339.5l1 1 0 1-1 1.5-1-1.5 0-1.5zM356.5 353l1 0 1 1 .5 2.5-.5 1-3 1-1-.5 0-1.5 1-3zM284.5 369.5l1-.5 1 .5 .5 3-1.5 4-1 1.5-1 .5-2-2 0-3 1-3zM260.5 372l2 0 1 .5 1 2 0 2-1 1.5-1 .5-2 0-1-2 0-2zM234.5 383l1-.5 .5 2-.5 2.5-1 .5-.5-2zM367.5 388l1 0 1 2.5 0 3-1 2.5-1-1.5-.5-2zM386.5 397l5-.5 2 1 0 1-1 1-4 2.5-7 3-7 1-2.5-.5 0-1 2.5-2.5 7-3.5z"/>
<path fill-rule="evenodd" fill="#26ffd1" d="M336.5 316.5l1.5 1 0 1-.5 .5-1-.5-.5-1zM341.5 318.5l4 1.5 3.5 2.5 1.5 2 2 .5 1 1.5-1 .5-1 0-1-1-2-.5-5-2.5-3-2.5 0-1zM266.5 319.5l.5 0-.5 1zM357.5 328.5l4 3.5 3 .5 1 1 6 6 1 2 1.5 6-.5 2-1 1.5-1-.5-2-5.5-3-4.5-3.5-3-2.5-4-2-1-1-1-.5-2zM373.5 356l.5 1.5-.5 4 1.5 3 0 3-.5 5-1 1.5-2-.5-1-2 0-2 .5-3 2-4 0-4zM284.5 372l.5 .5-.5 2.5-1-.5 0-1zM261.5 374.5l1 0 .5 1-.5 1.5-1 0-.5-.5-.5-1zM386.5 397.5l4-.5 2 .5 0 1-1 1-4 2.5-4 2-4 1-5 .5-1 0-.5-1 1.5-2 1-.5 6-3z"/>
<path fill-rule="evenodd" fill="#13fce4" d="M342.5 319.5l2.5 1 3 3-2.5 0-2-1-1.5-2zM363.5 334.5l1-.5 1 1 4 4.5 2 1.5 .5 4.5-.5 1.5-2-5-5.5-5.5-.5-1zM372.5 367.5l.5 1-.5 .5zM388.5 397.5l2 0 1 1-.5 1-2.5 2-5 2.5-7 1-2 0-.5-.5 0-1 1-1 6.5-3.5z"/>
<path fill-rule="evenodd" fill="#00e0fb" d="M343.5 321l1.5 .5-.5 1-1-1zM384.5 398.5l4-1 2 1 0 1-2 1.5-6 3-5 1-3-.5 0-1 1-1 6-3z"/>
<path fill-rule="evenodd" fill="#00c8ff" d="M385.5 398.5l3-.5 1.5 .5 0 1-3 2-5.5 2.5-4 .5-2-.5-.5-.5 3-2 4.5-2.5z"/>
<path fill-rule="evenodd" fill="#00acff" d="M386.5 398.5l2.5 0 .5 1-5 3-3 1.5-3 0-2.5-.5 2-2 3.5-2z"/>
<path fill-rule="evenodd" fill="#0090ff" d="M387.5 398.5l1 .5 .5 .5-1 1-4.5 2.5-4 1-3-.5 .5-1 4.5-2.5z"/>
<path fill-rule="evenodd" fill="#0078ff" d="M383.5 399.5l4-.5 1 .5-1 1-5 2.5-3 .5-2 0 0-1 1.5-1z"/>
<path fill-rule="evenodd" fill="#005cff" d="M384.5 399.5l3 0 .5 0-1 1-4.5 2.5-4 .5-.5-1 1-1 2.5-1.5z"/>
<path fill-rule="evenodd" fill="#0044ff" d="M384.5 399.5l2.5 0-.5 1-2 1.5-4 1-2-.5 3-2z"/>
<path fill-rule="evenodd" fill="#0028ff" d="M382.5 400l3-.5 .5 1-1 1-3.5 1.5-2.5-.5 1-1z"/>
<path fill-rule="evenodd" fill="#0010ff" d="M382.5 400.5l2-.5 1 .5-3 2-2.5 0 .5-1z"/>
<path fill-rule="evenodd" fill="#0000ff" d="M382.5 400.5l2.5 0-1 1-2.5 1-.5-1z"/>
<path fill-rule="evenodd" fill="#0000e3" d="M383.5 400.5l0 1-2 0z"/>
</g>
<g stroke="#000" stroke-width="1.11" fill="none" stroke-linecap="square">
<path d="M150.5 84.5H894.5V623.5H150.5Z"/>
</g>
<g shape-rendering="crispEdges"><rect x="149" y="83" width="747" height="1" fill="#f1f1f1"/><rect x="149" y="624" width="747" height="1" fill="#f1f1f1"/><rect x="940" y="83" width="29" height="1" fill="#f1f1f1"/><rect x="940" y="624" width="29" height="1" fill="#f1f1f1"/>
</g>
<path d="M145.5 128.5H150 M145.5 241.5H150 M145.5 354.5H150 M145.5 466.5H150 M145.5 579.5H150 M212.5 623.5V628.5 M336.5 623.5V628.5 M460.5 623.5V628.5 M584.5 623.5V628.5 M708.5 623.5V628.5 M832.5 623.5V628.5" stroke="#000" stroke-width="1.11"/>
<rect x="941" y="609.179" width="26" height="13.821" fill="#00008d" shape-rendering="crispEdges"/>
<rect x="941" y="595.359" width="26" height="13.821" fill="#0000a8" shape-rendering="crispEdges"/>
<rect x="941" y="581.538" width="26" height="13.821" fill="#0000c8" shape-rendering="crispEdges"/>
<rect x="941" y="567.718" width="26" height="13.821" fill="#0000e3" shape-rendering="crispEdges"/>
<rect x="941" y="553.897" width="26" height="13.821" fill="#0000ff" shape-rendering="crispEdges"/>
<rect x="941" y="540.077" width="26" height="13.821" fill="#0010ff" shape-rendering="crispEdges"/>
<rect x="941" y="526.256" width="26" height="13.821" fill="#0028ff" shape-rendering="crispEdges"/>
<rect x="941" y="512.436" width="26" height="13.821" fill="#0044ff" shape-rendering="crispEdges"/>
<rect x="941" y="498.615" width="26" height="13.821" fill="#005cff" shape-rendering="crispEdges"/>
<rect x="941" y="484.795" width="26" height="13.821" fill="#0078ff" shape-rendering="crispEdges"/>
<rect x="941" y="470.974" width="26" height="13.821" fill="#0090ff" shape-rendering="crispEdges"/>
<rect x="941" y="457.154" width="26" height="13.821" fill="#00acff" shape-rendering="crispEdges"/>
<rect x="941" y="443.333" width="26" height="13.821" fill="#00c8ff" shape-rendering="crispEdges"/>
<rect x="941" y="429.513" width="26" height="13.821" fill="#00e0fb" shape-rendering="crispEdges"/>
<rect x="941" y="415.692" width="26" height="13.821" fill="#13fce4" shape-rendering="crispEdges"/>
<rect x="941" y="401.872" width="26" height="13.821" fill="#26ffd1" shape-rendering="crispEdges"/>
<rect x="941" y="388.051" width="26" height="13.821" fill="#3cffba" shape-rendering="crispEdges"/>
<rect x="941" y="374.231" width="26" height="13.821" fill="#50ffa7" shape-rendering="crispEdges"/>
<rect x="941" y="360.410" width="26" height="13.821" fill="#66ff90" shape-rendering="crispEdges"/>
<rect x="941" y="346.590" width="26" height="13.821" fill="#7dff7a" shape-rendering="crispEdges"/>
<rect x="941" y="332.769" width="26" height="13.821" fill="#90ff66" shape-rendering="crispEdges"/>
<rect x="941" y="318.949" width="26" height="13.821" fill="#a7ff50" shape-rendering="crispEdges"/>
<rect x="941" y="305.128" width="26" height="13.821" fill="#baff3c" shape-rendering="crispEdges"/>
<rect x="941" y="291.308" width="26" height="13.821" fill="#d1ff26" shape-rendering="crispEdges"/>
<rect x="941" y="277.487" width="26" height="13.821" fill="#e4ff13" shape-rendering="crispEdges"/>
<rect x="941" y="263.667" width="26" height="13.821" fill="#fbf100" shape-rendering="crispEdges"/>
<rect x="941" y="249.846" width="26" height="13.821" fill="#ffdb00" shape-rendering="crispEdges"/>
<rect x="941" y="236.026" width="26" height="13.821" fill="#ffc100" shape-rendering="crispEdges"/>
<rect x="941" y="222.205" width="26" height="13.821" fill="#ffa700" shape-rendering="crispEdges"/>
<rect x="941" y="208.385" width="26" height="13.821" fill="#ff9100" shape-rendering="crispEdges"/>
<rect x="941" y="194.564" width="26" height="13.821" fill="#ff7700" shape-rendering="crispEdges"/>
<rect x="941" y="180.744" width="26" height="13.821" fill="#ff6000" shape-rendering="crispEdges"/>
<rect x="941" y="166.923" width="26" height="13.821" fill="#ff4700" shape-rendering="crispEdges"/>
<rect x="941" y="153.103" width="26" height="13.821" fill="#ff3000" shape-rendering="crispEdges"/>
<rect x="941" y="139.282" width="26" height="13.821" fill="#ff1600" shape-rendering="crispEdges"/>
<rect x="941" y="125.462" width="26" height="13.821" fill="#e40000" shape-rendering="crispEdges"/>
<rect x="941" y="111.641" width="26" height="13.821" fill="#c80000" shape-rendering="crispEdges"/>
<rect x="941" y="97.821" width="26" height="13.821" fill="#a80000" shape-rendering="crispEdges"/>
<rect x="941" y="84.000" width="26" height="13.821" fill="#8d0000" shape-rendering="crispEdges"/>
<path d="M941.5 84.5H967.5V623.5H941.5Z" stroke="#000" stroke-width="1.11" fill="none"/>
<path d="M967.5 84.5H972.5 M967.5 219.5H972.5 M967.5 354.5H972.5 M967.5 488.5H972.5 M967.5 623.5H972.5" stroke="#000" stroke-width="1.11"/>
<text transform="translate(204.86,654.60) scale(1.0542,1.0930)" font-family='"Liberation Sans", sans-serif' class="s" font-size="27.78" xml:space="preserve">0</text>
<text transform="translate(318.71,654.60) scale(1.0831,1.0930)" font-family='"Liberation Sans", sans-serif' class="s" font-size="27.78" xml:space="preserve">10</text>
<text transform="translate(442.48,654.60) scale(1.0909,1.0930)" font-family='"Liberation Sans", sans-serif' class="s" font-size="27.78" xml:space="preserve">20</text>
<text transform="translate(566.86,654.60) scale(1.0780,1.0930)" font-family='"Liberation Sans", sans-serif' class="s" font-size="27.78" xml:space="preserve">30</text>
<text transform="translate(691.32,654.60) scale(1.0625,1.0930)" font-family='"Liberation Sans", sans-serif' class="s" font-size="27.78" xml:space="preserve">40</text>
<text transform="translate(814.84,654.60) scale(1.0452,1.0930)" font-family='"Liberation Sans", sans-serif' class="s" font-size="27.78" xml:space="preserve">50</text>
<text transform="translate(105.71,138.65) scale(1.0831,1.0930)" font-family='"Liberation Sans", sans-serif' class="s" font-size="27.78" xml:space="preserve">10</text>
<text transform="translate(123.90,251.10) scale(0.9870,1.0930)" font-family='"Liberation Sans", sans-serif' class="s" font-size="27.78" xml:space="preserve">5</text>
<text transform="translate(123.86,363.60) scale(1.0542,1.0930)" font-family='"Liberation Sans", sans-serif' class="s" font-size="27.78" xml:space="preserve">0</text>
<text transform="translate(122.90,477.10) scale(0.9870,1.0930)" font-family='"Liberation Sans", sans-serif' class="s" font-size="27.78" xml:space="preserve">5</text>
<text transform="translate(105.63,589.50) scale(1.1192,1.0930)" font-family='"Liberation Sans", sans-serif' class="s" font-size="27.78" xml:space="preserve">10</text>
<text transform="translate(100.27,478.40) scale(1.2596,1.0930)" font-family='"Liberation Sans", sans-serif' class="s" font-size="27.78" xml:space="preserve">−</text>
<text transform="translate(83.27,590.80) scale(1.2596,1.0930)" font-family='"Liberation Sans", sans-serif' class="s" font-size="27.78" xml:space="preserve">−</text>
<text transform="translate(978.85,91.70) scale(1.0861,1.1100)" font-family='"Liberation Sans", sans-serif' class="c" font-size="20.83" xml:space="preserve">63.0</text>
<text transform="translate(979.16,226.70) scale(1.0547,1.1100)" font-family='"Liberation Sans", sans-serif' class="c" font-size="20.83" xml:space="preserve">31.5</text>
<text transform="translate(978.11,361.70) scale(1.0977,1.1100)" font-family='"Liberation Sans", sans-serif' class="c" font-size="20.83" xml:space="preserve">0.0</text>
<text transform="translate(994.12,495.70) scale(1.1062,1.1100)" font-family='"Liberation Sans", sans-serif' class="c" font-size="20.83" xml:space="preserve">31.5</text>
<text transform="translate(993.80,630.70) scale(1.1378,1.1100)" font-family='"Liberation Sans", sans-serif' class="c" font-size="20.83" xml:space="preserve">63.0</text>
<text transform="translate(977.68,496.50) scale(1.2846,1.1100)" font-family='"Liberation Sans", sans-serif' class="c" font-size="20.83" xml:space="preserve">−</text>
<text transform="translate(977.68,631.50) scale(1.2846,1.1100)" font-family='"Liberation Sans", sans-serif' class="c" font-size="20.83" xml:space="preserve">−</text>
<text transform="translate(288.19,75.80) scale(1.0028,1.0600)" font-family='"Liberation Mono", monospace' class="s" font-size="27.78" xml:space="preserve">ez<tspan dy="4.15">_</tspan><tspan dy="-4.15">averaged at 200.100064 fs</tspan></text>
<text transform="translate(469.53,689.80) scale(0.9558,1.0600)" font-family='"Liberation Mono", monospace' class="s" font-size="27.78" xml:space="preserve">X</text>
<text transform="translate(503.50,688.21) scale(0.8087,1.0041)" font-family='"Liberation Mono", monospace' class="s" font-size="27.78" xml:space="preserve">[</text>
<text transform="translate(519.61,690.14) scale(1.0420,1.0996)" font-family='"Liberation Sans", sans-serif' font-style="italic" class="s" font-size="27.78" xml:space="preserve">μ</text>
<text transform="translate(536.48,689.80) scale(1.1220,1.0713)" font-family='"Liberation Sans", sans-serif' font-style="italic" class="s" font-size="27.78" xml:space="preserve">m</text>
<text transform="translate(565.53,688.21) scale(0.6739,1.0041)" font-family='"Liberation Mono", monospace' class="s" font-size="27.78" xml:space="preserve">]</text>
<text transform="translate(65.40,405.94) rotate(-90) scale(0.9539,1.0600)" font-family='"Liberation Mono", monospace' class="s" font-size="27.78" xml:space="preserve">Z</text>
<text transform="translate(65.21,372.50) rotate(-90) scale(0.8087,1.0041)" font-family='"Liberation Mono", monospace' class="s" font-size="27.78" xml:space="preserve">[</text>
<text transform="translate(67.14,356.39) rotate(-90) scale(1.0420,1.0996)" font-family='"Liberation Sans", sans-serif' font-style="italic" class="s" font-size="27.78" xml:space="preserve">μ</text>
<text transform="translate(67.00,339.52) rotate(-90) scale(1.1220,1.0713)" font-family='"Liberation Sans", sans-serif' font-style="italic" class="s" font-size="27.78" xml:space="preserve">m</text>
<text transform="translate(65.21,310.47) rotate(-90) scale(0.6739,1.0041)" font-family='"Liberation Mono", monospace' class="s" font-size="27.78" xml:space="preserve">]</text>
<text transform="translate(1067.94,564.21) rotate(-90) scale(1.0045,1.0600)" font-family='"Liberation Mono", monospace' class="s" font-size="27.78" xml:space="preserve">Normalized electric field</text>
</svg>
</body></html>
